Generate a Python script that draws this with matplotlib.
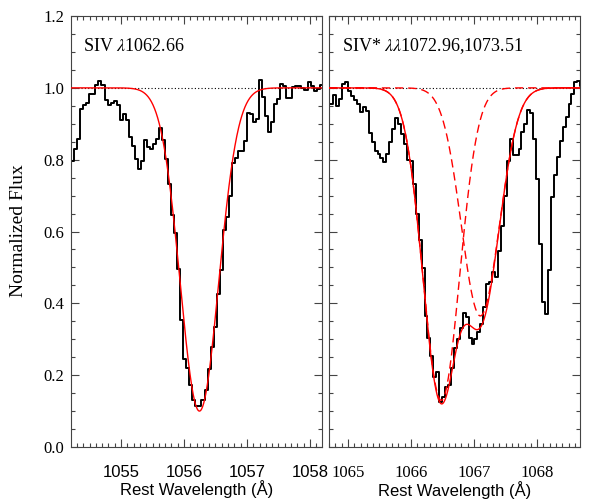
import numpy as np
import matplotlib.pyplot as plt
from matplotlib.ticker import MultipleLocator, FormatStrFormatter

plt.rcParams['font.family'] = 'Liberation Serif'
plt.rcParams['mathtext.fontset'] = 'stix'

# SIV 1062.66 spectrum (left panel), constant bin width
siv_start = 1054.185
siv_step = 0.0481
siv_flux = [0.723, 0.797, 0.830, 0.857, 0.941, 0.952, 0.959, 0.984, 0.984, 1.008,
            1.019, 1.008, 0.966, 0.952, 0.957, 0.963, 0.952, 0.910, 0.927, 0.910,
            0.862, 0.839, 0.802, 0.774, 0.797, 0.855, 0.834, 0.830, 0.845, 0.857,
            0.888, 0.855, 0.802, 0.732, 0.647, 0.596, 0.496, 0.353, 0.246, 0.221,
            0.172, 0.131, 0.114, 0.114, 0.130, 0.158, 0.217, 0.279, 0.334, 0.427,
            0.494, 0.603, 0.640, 0.700, 0.790, 0.805, 0.823, 0.825, 0.851, 0.931,
            0.927, 0.904, 0.913, 1.021, 0.975, 0.922, 0.876, 0.906, 0.955, 0.968,
            1.012, 1.005, 0.973, 0.973, 1.001, 1.004, 1.004, 0.999, 0.995, 1.017,
            1.005, 0.990, 0.996, 1.008]

# SIV* doublet spectrum (right panel)
sivs_start = 1064.700
sivs_step = 0.0466
sivs_flux = [0.955, 0.955, 0.980, 0.950, 0.968, 1.010, 1.017, 0.990, 0.978, 0.966,
             0.955, 0.932, 0.947, 0.936, 0.873, 0.848, 0.825, 0.816, 0.806, 0.793,
             0.816, 0.848, 0.885, 0.915, 0.899, 0.871, 0.844, 0.799, 0.796, 0.733,
             0.649, 0.575, 0.499, 0.364, 0.303, 0.253, 0.195, 0.208, 0.125, 0.138,
             0.168, 0.172, 0.220, 0.277, 0.300, 0.330, 0.372, 0.362, 0.303, 0.286,
             0.300, 0.320, 0.343, 0.390, 0.453, 0.459, 0.487, 0.473, 0.547, 0.616,
             0.700, 0.797, 0.857, 0.814, 0.814, 0.830, 0.876, 0.899, 0.938, 0.929,
             0.857, 0.746, 0.566, 0.404, 0.371, 0.492, 0.697, 0.756, 0.808, 0.853,
             0.892, 0.919, 0.955, 0.984, 1.015, 1.018, 1.005]

# Gaussian fit components: (centre, depth, width)
siv_fit = (1056.245, 0.90, 0.43)
sivs_fit_a = (1066.48, 0.87, 0.41)
sivs_fit_b = (1067.10, 0.635, 0.425)

left_lim = (1054.206, 1058.19)
right_lim = (1064.70, 1068.68)
left_ticks = [1055, 1056, 1057, 1058]
right_ticks = [1065, 1066, 1067, 1068]
y_ticks = [0.0, 0.2, 0.4, 0.6, 0.8, 1.0, 1.2]

left_label = r'SIV $\lambda$1062.66'
right_label = r'SIV* $\lambda\lambda$1072.96,1073.51'


def profile(wave, centre, depth, width):
    """Gaussian absorption line in normalized flux"""
    return 1.0 - depth * np.exp(-((wave - centre) / width) ** 2)


frame_col = '#444444'

fig = plt.figure(figsize=(5.98, 4.99), dpi=100)
ax1 = fig.add_axes([0.1187, 0.1042, 0.4197, 0.8637])
ax2 = fig.add_axes([0.5502, 0.1042, 0.4197, 0.8637])

# left panel
wave1 = siv_start + siv_step * np.arange(len(siv_flux))
grid1 = np.linspace(left_lim[0], left_lim[1], 800)
ax1.axhline(1.0, color='black', lw=0.8, ls=(0, (1, 2)), zorder=1)
ax1.step(wave1, siv_flux, where='mid', color='black', lw=1.4, zorder=2)
ax1.plot(grid1, profile(grid1, *siv_fit), color='red', lw=1.0, zorder=3)

# right panel: two components and their product
wave2 = sivs_start + sivs_step * np.arange(len(sivs_flux))
grid2 = np.linspace(right_lim[0], right_lim[1], 800)
comp_a = profile(grid2, *sivs_fit_a)
comp_b = profile(grid2, *sivs_fit_b)
ax2.axhline(1.0, color='black', lw=0.8, ls=(0, (1, 2)), zorder=1)
ax2.step(wave2, sivs_flux, where='mid', color='black', lw=1.4, zorder=2)
ax2.plot(grid2, comp_a, color='red', lw=1.0, ls=(0, (6, 3.5)), zorder=3)
ax2.plot(grid2, comp_b, color='red', lw=1.0, ls=(0, (6, 3.5)), zorder=3)
ax2.plot(grid2, comp_a * comp_b, color='red', lw=1.0, zorder=4)

for ax, lim, ticks in [(ax1, left_lim, left_ticks), (ax2, right_lim, right_ticks)]:
    ax.set_xlim(*lim)
    ax.set_ylim(0, 1.2)
    ax.set_xticks(ticks)
    ax.set_yticks(y_ticks)
    ax.xaxis.set_minor_locator(MultipleLocator(0.1))
    ax.yaxis.set_minor_locator(MultipleLocator(0.05))
    ax.yaxis.set_major_formatter(FormatStrFormatter('%.1f'))
    ax.tick_params(which='both', direction='in', top=True, right=True,
                   color=frame_col, width=0.8)
    ax.tick_params(which='major', length=6)
    ax.tick_params(which='minor', length=3)
    ax.tick_params(axis='x', pad=13, labelsize=12)
    ax.tick_params(axis='y', pad=5, labelsize=12)
    for sp in ax.spines.values():
        sp.set_color(frame_col)
        sp.set_linewidth(0.8)
    ax.set_xlabel('Rest Wavelength (Å)', fontfamily='Liberation Sans',
                  fontsize=12, labelpad=0)

ax1.tick_params(axis='x', labelfontfamily='Liberation Sans')
ax2.tick_params(axis='y', labelleft=False)

ax1.text(0.049, 0.9195, left_label, transform=ax1.transAxes, fontsize=13, va='baseline')
ax2.text(0.0506, 0.9195, right_label, transform=ax2.transAxes, fontsize=13, va='baseline')

fig.text(0.031, 0.537, 'Normalized Flux', rotation=90, ha='center', va='center', fontsize=14)

fig.savefig('out.png', dpi=100)
